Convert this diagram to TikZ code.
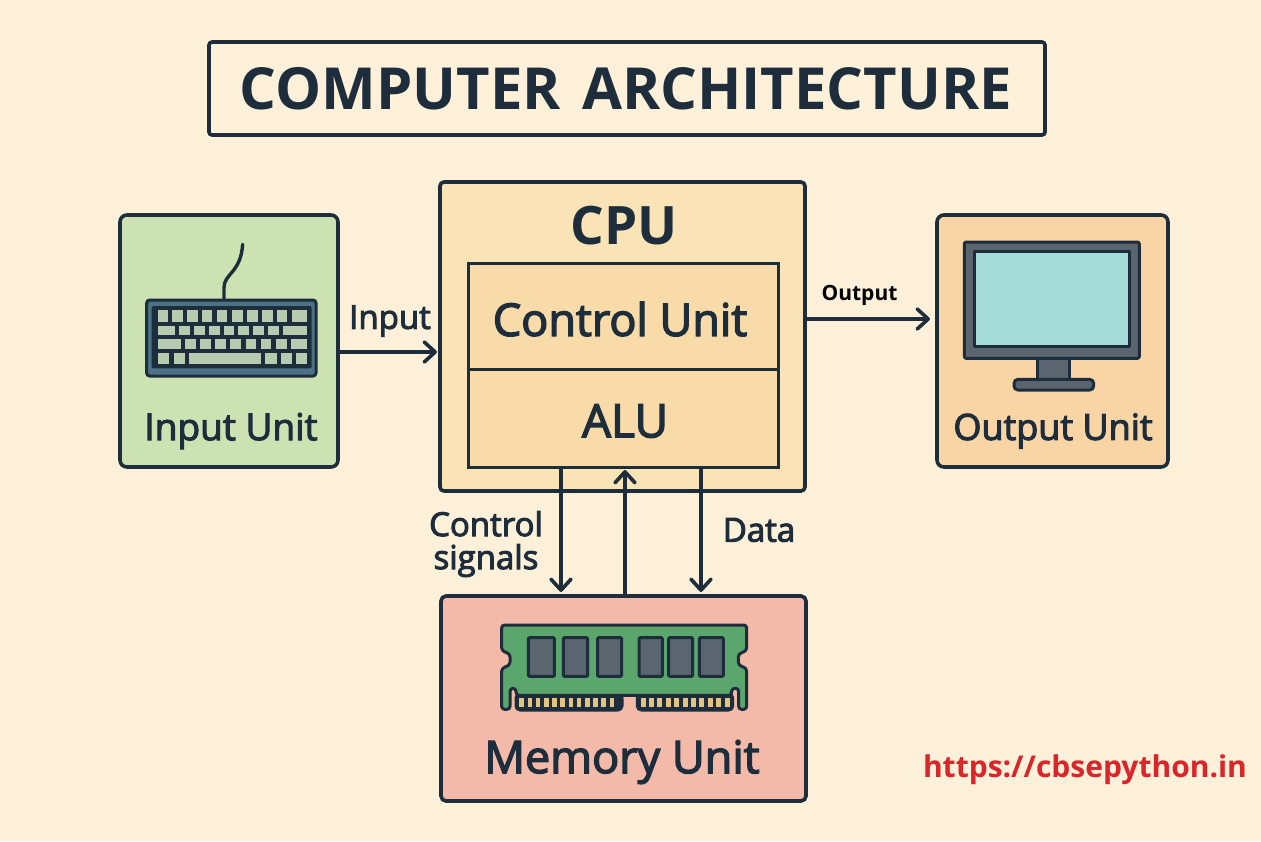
\documentclass[tikz,border=0pt]{standalone}
\usepackage{fontspec}
\setmainfont{Open Sans}
\newfontfamily\labf[FakeBold=3]{Open Sans}
\newfontfamily\titlef{Open Sans Bold}
\newfontfamily\boldf{Open Sans Bold}
\usetikzlibrary{arrows.meta}
\definecolor{bgc}{HTML}{FEF0D9}
\definecolor{ink}{HTML}{1E2D3B}
\definecolor{cpuc}{HTML}{FAE3B6}
\definecolor{innerc}{HTML}{F8DBA8}
\definecolor{inputc}{HTML}{CDE2B3}
\definecolor{outc}{HTML}{F9D4A4}
\definecolor{memc}{HTML}{F3B9A9}
\definecolor{keyc}{HTML}{B6CBB0}
\definecolor{kbc}{HTML}{4D7286}
\definecolor{monc}{HTML}{5A6570}
\definecolor{scrc}{HTML}{A5DCD9}
\definecolor{ramc}{HTML}{5BA66C}
\definecolor{goldc}{HTML}{E3C47F}
\definecolor{redc}{HTML}{D9262A}
\tikzset{
  box/.style={draw=ink,line width=3.6pt,rounded corners=7pt,inner sep=0pt,outer sep=0pt,anchor=north west},
  part/.style={draw=ink,line width=3pt,inner sep=0pt,outer sep=0pt,anchor=north west},
  lab/.style={text=ink,font=\labf\fontsize{37}{40}\selectfont,inner sep=0pt},
  small/.style={text=ink,font=\labf\fontsize{33}{36}\selectfont,inner sep=0pt,align=center},
  conn/.style={draw=ink,line width=3.6pt,-{Straight Barb[length=11pt,width=20pt,line width=3.6pt,round]}},
  icon/.style={draw=ink,line width=3pt,line join=round},
}
\newcommand{\keyrow}[3]{\foreach \a/\b in {#3}{\fill[keyc] (\a,#1) rectangle (\b,#2);}}
\begin{document}
\begin{tikzpicture}[x=1pt,y=-1pt]
\useasboundingbox (0,0) rectangle (1261,841);
\fill[bgc] (0,0) rectangle (1261,841);
% title
\node[box,fill=bgc,minimum width=836pt,minimum height=93pt,rounded corners=3pt] (title) at (209,42) {};
\node[text=ink,font=\titlef\fontsize{58}{60}\selectfont,inner sep=0pt] (titletext) at (626,89) {COMPUTER\hspace{6pt} ARCHITECTURE};
% units
\node[box,fill=inputc,minimum width=218pt,minimum height=252pt] (input) at (120,215) {};
\node[box,fill=cpuc,minimum width=365pt,minimum height=309pt,rounded corners=4pt] (cpu) at (440,182) {};
\node[box,fill=outc,minimum width=231pt,minimum height=252pt] (output) at (937,215) {};
\node[box,fill=memc,minimum width=365pt,minimum height=205pt,rounded corners=5pt] (memory) at (441,596) {};
\node[part,fill=innerc,minimum width=310pt,minimum height=106pt] (control) at (468,263) {};
\node[part,fill=innerc,minimum width=310pt,minimum height=98pt] (alu) at (468,369) {};
% text in boxes
\node[lab] (t1) at (231,431) {Input Unit};
\node[lab,font=\labf\fontsize{36}{40}\selectfont] (t2) at (1053,431) {Output Unit};
\node[lab,font=\labf\fontsize{45}{48}\selectfont] (t3) at (622,762) {Memory Unit};
\node[lab,font=\titlef\fontsize{53}{56}\selectfont] (t4) at (624,226) {CPU};
\node[lab,font=\labf\fontsize{45}{48}\selectfont] (t5) at (620,319) {Control Unit};
\node[lab,font=\labf\fontsize{46}{48}\selectfont] (t6) at (625,421) {ALU};
% connectors
\draw[conn,shorten >=3pt] ([yshift=-11pt]input.east) -- ([yshift=-11pt]input.east -| cpu.west);
\draw[conn,shorten >=7pt] ([yshift=17.5pt]cpu.east) -- ([yshift=17.5pt]cpu.east -| output.west);
\draw[conn,shorten >=4pt] ([xshift=-62pt]alu.south) -- ([xshift=-62pt]alu.south |- memory.north);
\draw[conn,shorten >=3pt] ([xshift=1.5pt]memory.north) -- ([xshift=1.5pt]memory.north |- alu.south);
\draw[conn,shorten >=4pt] ([xshift=78pt]alu.south) -- ([xshift=78pt]alu.south |- memory.north);
\node[small] (l1) at (390,321) {Input};
\node[font=\boldf\fontsize{21}{24}\selectfont,text=black,inner sep=0pt] (l2) at (859.5,295) {Output};
\node[small] (l3) at (486,544) {Control\\[-3pt]signals};
\node[small] (l4) at (759,530) {Data};
\node[font=\boldf\fontsize{30}{32}\selectfont,text=redc,inner sep=0pt] (url) at (1085,770) {https://cbsepython.in};
% keyboard
\begin{scope}[shift={(110,205)},x=0.33333pt,y=-0.33333pt]
  \draw[ink,line width=3.4pt,line cap=round] (342,285) -- (342,248) .. controls (342,205) and (392,205) .. (398,118);
  \draw[fill=kbc,draw=ink,line width=3pt,rounded corners=3pt] (110,285) rectangle (618,513);
  \fill[ink,rounded corners=2pt] (125,303) rectangle (605,490);
  \keyrow{315}{350}{143/175,187/218,230/263,276/307,320/352,366/398,411/443,456/488,500/532,546/590}
  \keyrow{362}{390}{143/195,208/240,253/284,296/330,342/372,385/417,430/462,475/507,520/590}
  \keyrow{403}{432}{143/213,225/257,270/303,316/348,361/393,407/439,452/484,498/530,543/590}
  \keyrow{443}{477}{143/178,191/225,238/453,466/500,513/547,558/590}
\end{scope}
% monitor
\begin{scope}[shift={(930,205)},x=0.33333pt,y=-0.33333pt]
  \draw[icon,fill=monc] (322,458) rectangle (418,525);
  \draw[icon,fill=monc,rounded corners=4pt] (252,523) rectangle (491,555);
  \draw[icon,fill=monc,rounded corners=2pt] (103,111) rectangle (628,460);
  \draw[icon,fill=scrc] (133,139) rectangle (599,425);
\end{scope}
% memory module
\begin{scope}[shift={(430,590)},x=0.33333pt,y=-0.33333pt]
  \draw[icon,fill=ink,rounded corners=4pt] (258,312) rectangle (576,360);
  \draw[icon,fill=ink,rounded corners=4pt] (622,312) rectangle (908,360);
  \foreach \i in {0,...,11}{\fill[goldc] ({268+\i*24.6},323) rectangle ({282+\i*24.6},351);}
  \foreach \i in {0,...,10}{\fill[goldc] ({632+\i*25.2},323) rectangle ({647+\i*25.2},351);}
  \draw[icon,fill=ramc,rounded corners=3pt] (215,105) -- (950,105) -- (950,182) -- (925,192) -- (925,225) -- (950,235) -- (950,358) -- (926,358) -- (926,295) -- (905,295) -- (905,316) -- (258,316) -- (258,295) -- (240,295) -- (240,358) -- (215,358) -- (215,235) -- (240,225) -- (240,192) -- (215,182) -- cycle;
  \foreach \a/\b in {295/373,400/473,503/575,627/697,716/788,808/880}{
    \draw[icon,fill=monc,rounded corners=1pt] (\a,143) rectangle (\b,259);}
\end{scope}
\end{tikzpicture}
\end{document}
